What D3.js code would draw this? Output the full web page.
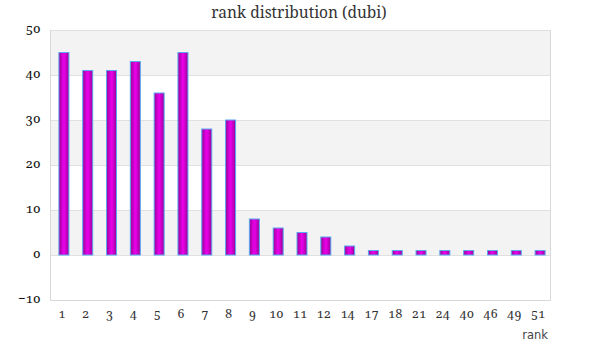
<!DOCTYPE html>
<html><head><meta charset="utf-8">
<script src="https://cdn.jsdelivr.net/npm/d3@7"></script>
<style>
body{margin:0;background:#fff;}
</style>
</head><body>
<svg id="c" width="600" height="360"></svg>
<script>
const categories = ["1","2","3","4","5","6","7","8","9","10","11","12","14","17","18","21","24","40","46","49","51"];
const values = [45,41,41,43,36,45,28,30,8,6,5,4,2,1,1,1,1,1,1,1,1];
const yTicks = [-10,0,10,20,30,40,50];
const title = "rank distribution (dubi)";
const xLabel = "rank";

const svg = d3.select("#c");
const L = 50.5, R = 550.5, T = 30, B = 300;
const x = d3.scaleBand().domain(categories).range([L + 1.5, R + 1.5]).paddingInner(0.58).paddingOuter(0.29);
const y = d3.scaleLinear().domain([-10, 50]).range([B, T]);

const numFont = "'Noto Serif', Lato, serif";

const defs = svg.append("defs");
const g = defs.append("linearGradient").attr("id","bg").attr("x1","0").attr("x2","1").attr("y1","0").attr("y2","0");
g.append("stop").attr("offset","0").attr("stop-color","#9a0096");
g.append("stop").attr("offset","0.45").attr("stop-color","#e600e6");
g.append("stop").attr("offset","0.55").attr("stop-color","#e600e6");
g.append("stop").attr("offset","1").attr("stop-color","#9a0096");

// alternating bands
for (let i = 0; i < yTicks.length - 1; i++) {
  const lo = yTicks[i], hi = yTicks[i+1];
  const fill = (i % 2 === 1) ? "#f3f3f3" : "#ffffff";
  svg.append("rect").attr("x", L).attr("y", y(hi)).attr("width", R - L).attr("height", y(lo) - y(hi)).attr("fill", fill);
}
// gridlines
svg.append("g").selectAll("line").data(yTicks).join("line")
  .attr("x1", L).attr("x2", R).attr("y1", d => Math.round(y(d)) + 0.5).attr("y2", d => Math.round(y(d)) + 0.5)
  .attr("stroke", "#e0e0e0").attr("stroke-width", 1);
// borders
svg.append("line").attr("x1", L).attr("x2", L).attr("y1", T).attr("y2", B + 0.5).attr("stroke", "#d8d8d8");
svg.append("line").attr("x1", R).attr("x2", R).attr("y1", T).attr("y2", B + 0.5).attr("stroke", "#d8d8d8");
svg.append("line").attr("x1", L).attr("x2", R).attr("y1", B + 0.5).attr("y2", B + 0.5).attr("stroke", "#d8d8d8");

// bars
svg.append("g").selectAll("rect").data(values).join("rect")
  .attr("x", (d, i) => x(categories[i]))
  .attr("width", x.bandwidth())
  .attr("y", d => y(d))
  .attr("height", d => y(0) - y(d))
  .attr("fill", "url(#bg)")
  .attr("stroke", "#5aa8f0").attr("stroke-width", 1);

// y axis labels
const yAxis = d3.axisLeft(y).tickValues(yTicks).tickSize(0).tickPadding(10);
const ya = svg.append("g").attr("transform", `translate(${L},0)`).call(yAxis);
ya.select(".domain").remove();
ya.selectAll("text")
  .style("font-family", numFont).style("font-feature-settings", '"onum" 1').style("font-variant-numeric", "oldstyle-nums")
  .style("font-size", "13px").attr("fill", "#111").attr("dy", "0.2em");

// x axis labels
const xAxis = d3.axisBottom(x).tickSize(0).tickPadding(9);
const xa = svg.append("g").attr("transform", `translate(-2,${B})`).call(xAxis);
xa.select(".domain").remove();
xa.selectAll("text")
  .style("font-family", numFont).style("font-feature-settings", '"onum" 1').style("font-variant-numeric", "oldstyle-nums")
  .style("font-size", "12.5px").attr("fill", "#333");

// title
svg.append("text").attr("x", 299).attr("y", 18).attr("text-anchor", "middle")
  .style("font-family", "'Noto Serif', serif").style("font-size", "15.5px").attr("fill", "#333").text(title);

// x label
svg.append("text").attr("x", 548).attr("y", 339).attr("text-anchor", "end")
  .style("font-family", "'DejaVu Sans', Verdana, sans-serif").style("font-size", "11.5px").attr("fill", "#444").text(xLabel);
</script>
</body></html>
